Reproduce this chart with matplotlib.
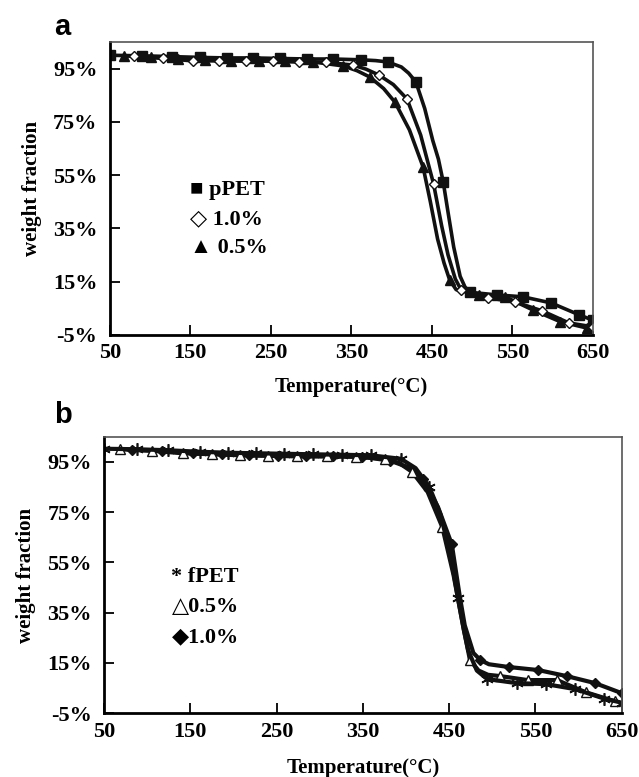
import numpy as np
import matplotlib.pyplot as plt

# ---- panel a: marker points ----
ppet_t = [50, 90, 127, 162, 195, 228, 261, 295, 327, 362, 395, 430, 464, 497, 531, 563, 598, 633, 650]
ppet_w = [100, 99.8, 99.5, 99.2, 99.0, 99.0, 98.8, 98.6, 98.6, 98.3, 97.5, 90, 52.4, 11.0, 10.0, 9.3, 7.0, 2.5, 0.5]
# extra points along the pPET curve (knees)
ppet_ct = [380, 412, 421, 441, 451, 458, 470, 477, 485, 491]
ppet_cw = [98.0, 95.6, 93.3, 80, 68, 61, 41, 28, 17, 13]

p10_t = [80, 116, 153, 186, 219, 252, 285, 318, 352, 384, 419, 452, 486, 520, 553, 587, 620, 650]
p10_w = [99.7, 98.8, 97.9, 97.9, 97.8, 97.8, 97.5, 97.4, 96.3, 92.6, 83.6, 51.7, 12.0, 8.9, 7.4, 4.0, -0.5, -2.0]
p10_ct = [368, 402, 436, 462, 470, 479]
p10_cw = [94.8, 89, 70, 36, 25, 16]

p05_t = [67, 101, 134, 168, 201, 235, 268, 302, 340, 373, 404, 439, 472, 508, 541, 575, 609, 642]
p05_w = [99.8, 99.3, 98.6, 98.2, 98.0, 97.9, 97.7, 97.5, 96.0, 91.8, 82.4, 58.0, 15.6, 10.0, 9.3, 4.4, 0.0, -2.4]
p05_ct = [357, 390, 422, 448, 457, 465, 480]
p05_cw = [94.2, 87.5, 72, 45, 31, 22, 12]

# ---- panel b ----
fpet_t = [50, 88, 124, 161, 194, 226, 259, 292, 326, 359, 394, 427, 460, 494, 528, 562, 596, 630, 650]
fpet_w = [100.2, 100.0, 99.6, 99.0, 98.6, 98.4, 98.2, 98.0, 97.8, 97.6, 96.2, 85.0, 41.0, 8.6, 7.0, 6.6, 4.6, 0.8, -0.8]
fpet_ct = [411, 440, 452, 467, 472, 482]
fpet_cw = [92.5, 74, 57, 28, 20, 12]

f05_t = [68, 105, 141, 175, 208, 240, 273, 308, 342, 376, 407, 442, 474, 509, 541, 575, 608, 642]
f05_w = [100.0, 99.4, 98.4, 98.0, 97.6, 97.4, 97.2, 97.2, 97.0, 96.2, 91.0, 69.0, 16.2, 9.8, 8.2, 8.2, 3.4, -0.2]
f05_ct = [392, 425, 455, 466, 484, 495]
f05_cw = [94.5, 83, 50, 30, 12, 10.3]

f10_t = [82, 117, 153, 187, 218, 252, 284, 315, 349, 381, 420, 453, 486, 519, 553, 586, 619, 650]
f10_w = [99.8, 99.3, 98.4, 98.0, 97.6, 97.4, 97.2, 97.2, 97.0, 95.5, 88.0, 62.2, 16.2, 13.4, 12.2, 9.8, 7.0, 3.0]
f10_ct = [403, 437, 462, 468, 478, 496]
f10_cw = [92.8, 77, 42, 30, 19, 14.5]

xticks = [50, 150, 250, 350, 450, 550, 650]
yticks = [-5, 15, 35, 55, 75, 95]

serif = ['Liberation Serif', 'DejaVu Serif']
plt.rcParams['font.family'] = serif
plt.rcParams['font.weight'] = 'bold'


def curve(t, w, ct, cw):
    x = np.array(t + ct, dtype=float)
    y = np.array(w + cw, dtype=float)
    o = np.argsort(x)
    return x[o], y[o]


def style_axes(ax, xpad):
    ax.set_xlim(50, 650)
    ax.set_ylim(-5, 105)
    ax.set_xticks(xticks)
    ax.set_yticks(yticks)
    ax.set_yticklabels(['%d%%' % v for v in yticks])
    ax.tick_params(direction='in', length=7, width=1.3, labelsize=16, pad=6)
    ax.tick_params(axis='y', pad=9)
    for s in ['left', 'bottom']:
        ax.spines[s].set_linewidth(2)
        ax.spines[s].set_color('black')
    for s in ['top', 'right']:
        ax.spines[s].set_linewidth(1.2)
        ax.spines[s].set_color('#555555')
    ax.set_xlabel('Temperature(°C)', fontsize=15, fontweight='bold', labelpad=xpad)
    ax.set_ylabel('weight fraction', fontsize=15, fontweight='bold', labelpad=8)


fig = plt.figure(figsize=(6.39, 7.77), dpi=100)

# ---------------- panel a ----------------
ax1 = fig.add_axes([0.172, 0.569, 0.756, 0.377])
lw = 2.6
x, y = curve(ppet_t, ppet_w, ppet_ct, ppet_cw)
ax1.plot(x, y, color='#111111', lw=lw)
ax1.plot(ppet_t, ppet_w, 's', color='#111111', ms=7)
x, y = curve(p05_t, p05_w, p05_ct, p05_cw)
ax1.plot(x, y, color='#111111', lw=lw)
ax1.plot(p05_t, p05_w, '^', color='#111111', ms=7)
x, y = curve(p10_t, p10_w, p10_ct, p10_cw)
ax1.plot(x, y, color='#111111', lw=lw)
ax1.plot(p10_t, p10_w, 'D', mfc='white', mec='#111111', mew=1.0, ms=5)
style_axes(ax1, 10)

leg_a = ['\u25a0 pPET', '\u25c7 1.0%', '\u25b2 0.5%']
for i, s in enumerate(leg_a):
    ax1.text(0.165, 0.495 - i * 0.1, s, transform=ax1.transAxes, fontsize=16,
             fontweight='bold', family=serif, va='center')
fig.text(0.085, 0.955, 'a', fontsize=21, fontweight='bold', family='Liberation Sans')

# ---------------- panel b ----------------
ax2 = fig.add_axes([0.163, 0.082, 0.810, 0.356])
lw = 3.0
x, y = curve(f10_t, f10_w, f10_ct, f10_cw)
ax2.plot(x, y, color='#111111', lw=lw)
ax2.plot(f10_t, f10_w, 'D', color='#111111', ms=5)
x, y = curve(f05_t, f05_w, f05_ct, f05_cw)
ax2.plot(x, y, color='#111111', lw=lw)
ax2.plot(f05_t, f05_w, '^', mfc='white', mec='#111111', mew=1.0, ms=7)
x, y = curve(fpet_t, fpet_w, fpet_ct, fpet_cw)
ax2.plot(x, y, color='#111111', lw=lw)
ax2.plot(fpet_t, fpet_w, marker=(6, 2, 0), ls='none', color='#111111', ms=9, mew=1.2)
style_axes(ax2, 12)

leg_b = ['* fPET', '\u25b30.5%', '\u25c61.0%']
for i, s in enumerate(leg_b):
    ax2.text(0.13, 0.493 - i * 0.11, s, transform=ax2.transAxes, fontsize=16,
             fontweight='bold', family=serif, va='center')
fig.text(0.085, 0.455, 'b', fontsize=21, fontweight='bold', family='Liberation Sans')

fig.savefig('out.png', dpi=100)
